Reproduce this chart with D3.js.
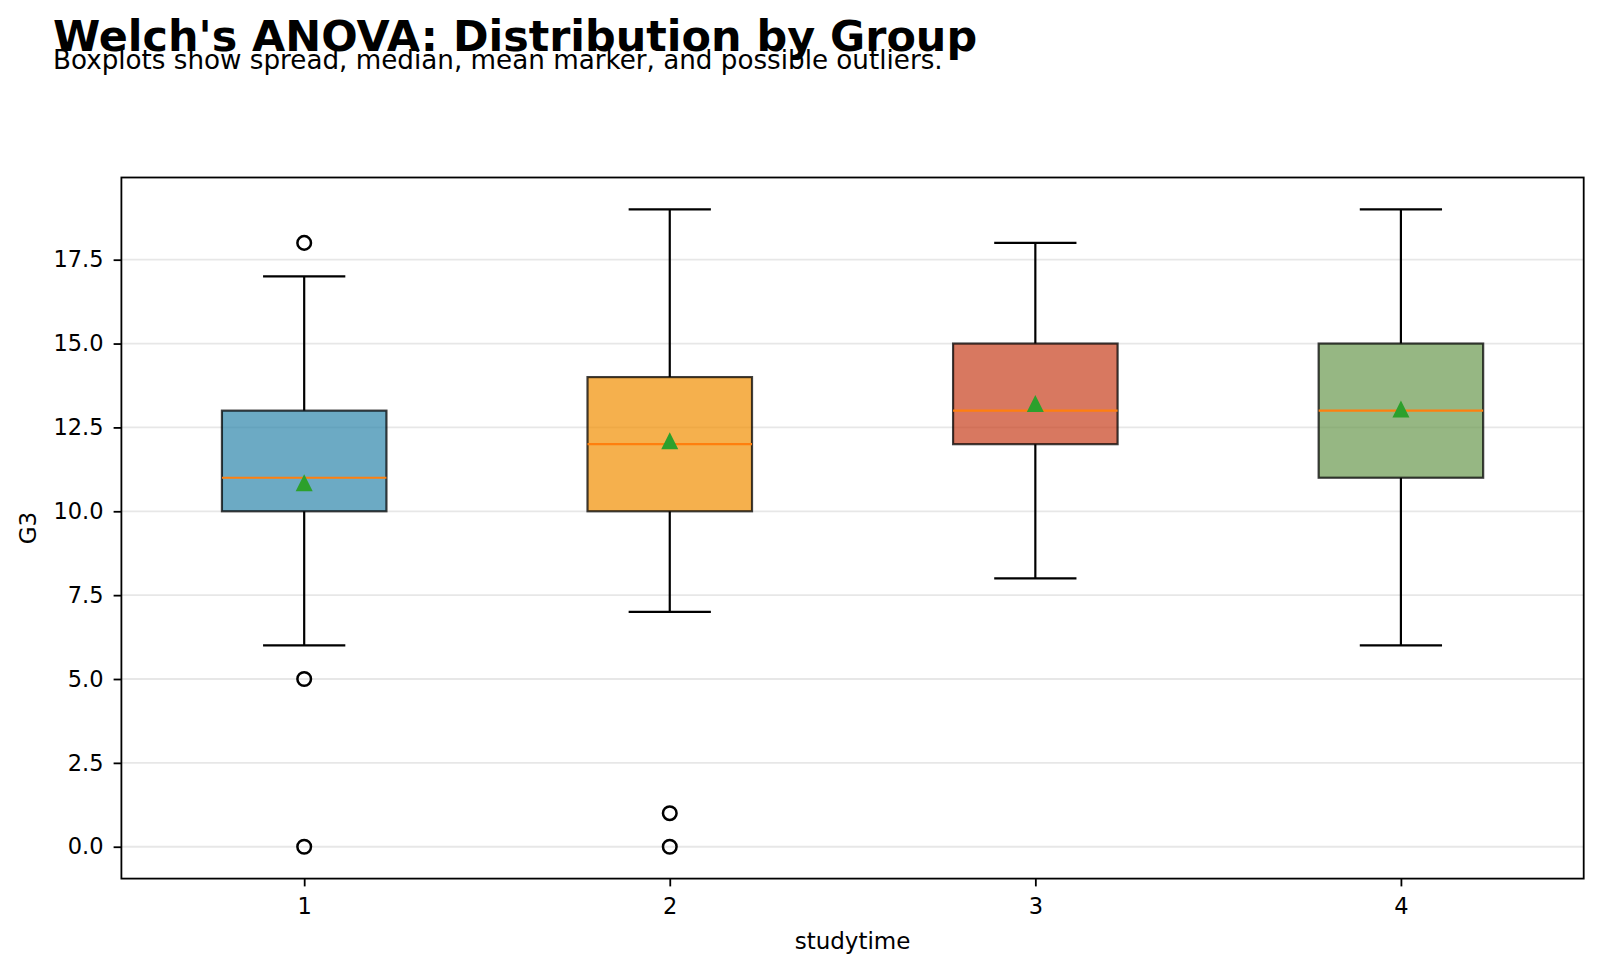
<!DOCTYPE html>
<html>
<head>
<meta charset="utf-8">
<script src="https://cdn.jsdelivr.net/npm/d3@7"></script>
<style>
  body { margin: 0; background: #fff; }
  svg { display: block; font-family: "DejaVu Sans", sans-serif; }
</style>
</head>
<body>
<div id="chart"></div>
<script>
// Box summaries per studytime group
const groups = ["1", "2", "3", "4"];
const whiskerLow = [6, 7, 8, 6];
const q1 = [10, 10, 12, 11];
const medians = [11, 12, 13, 13];
const q3 = [13, 14, 15, 15];
const whiskerHigh = [17, 19, 18, 19];
const means = [10.85, 12.1, 13.21, 13.05];
const outliers = [[18, 5, 0], [1, 0], [], []];
const boxColors = ["#2E86AB", "#F18F01", "#C73E1D", "#6A994E"];
const yTicks = [0, 2.5, 5, 7.5, 10, 12.5, 15, 17.5];

const width = 1600;
const height = 971;
const margin = { top: 177.5, right: 16.3, bottom: 92.4, left: 121.4 };

const svg = d3.select("#chart")
  .append("svg")
  .attr("width", width)
  .attr("height", height);

// Scales: categories sit at 1..4, box width 0.45 like matplotlib
const x = d3.scaleLinear()
  .domain([0.5, groups.length + 0.5])
  .range([margin.left, width - margin.right]);

const y = d3.scaleLinear()
  .domain([-0.95, 19.95])
  .range([height - margin.bottom, margin.top]);

const boxW = 0.45;

// Titles (they overlap a little in the original too)
svg.append("text")
  .attr("x", 53)
  .attr("y", 51)
  .style("font-size", "42.9px")
  .style("font-weight", "bold")
  .text("Welch's ANOVA: Distribution by Group");

svg.append("text")
  .attr("x", 53)
  .attr("y", 69)
  .style("font-size", "26.2px")
  .text("Boxplots show spread, median, mean marker, and possible outliers.");

// Grid lines
svg.append("g")
  .selectAll("line")
  .data(yTicks)
  .enter()
  .append("line")
  .attr("x1", margin.left)
  .attr("x2", width - margin.right)
  .attr("y1", d => y(d))
  .attr("y2", d => y(d))
  .attr("stroke", "#b0b0b0")
  .attr("stroke-opacity", 0.3)
  .attr("stroke-width", 1.8);

// Axes
const yAxis = svg.append("g")
  .attr("transform", `translate(${margin.left},0)`)
  .call(d3.axisLeft(y).tickValues(yTicks).tickFormat(d3.format(".1f")).tickSize(7.8).tickPadding(10).tickSizeOuter(0));

const xAxis = svg.append("g")
  .attr("transform", `translate(0,${height - margin.bottom})`)
  .call(d3.axisBottom(x).tickValues(groups.map((g, i) => i + 1)).tickFormat((d, i) => groups[i]).tickSize(7.8).tickPadding(12).tickSizeOuter(0));

[yAxis, xAxis].forEach(a => {
  a.select(".domain").remove();
  a.selectAll(".tick line").attr("stroke", "#000").attr("stroke-width", 1.8);
  a.selectAll(".tick text")
    .style("font-size", "22.5px")
    .style("font-family", "DejaVu Sans, sans-serif")
    .attr("fill", "#000");
});

// Boxes
const boxes = svg.append("g")
  .selectAll("g")
  .data(groups)
  .enter()
  .append("g");

// whiskers
boxes.append("line")
  .attr("x1", (d, i) => x(i + 1))
  .attr("x2", (d, i) => x(i + 1))
  .attr("y1", (d, i) => y(whiskerLow[i]))
  .attr("y2", (d, i) => y(q1[i]))
  .attr("stroke", "#000").attr("stroke-width", 2.2);

boxes.append("line")
  .attr("x1", (d, i) => x(i + 1))
  .attr("x2", (d, i) => x(i + 1))
  .attr("y1", (d, i) => y(q3[i]))
  .attr("y2", (d, i) => y(whiskerHigh[i]))
  .attr("stroke", "#000").attr("stroke-width", 2.2);

// caps
[whiskerLow, whiskerHigh].forEach(arr => {
  boxes.append("line")
    .attr("x1", (d, i) => x(i + 1 - boxW / 4))
    .attr("x2", (d, i) => x(i + 1 + boxW / 4))
    .attr("y1", (d, i) => y(arr[i]))
    .attr("y2", (d, i) => y(arr[i]))
    .attr("stroke", "#000").attr("stroke-width", 2.2);
});

boxes.append("rect")
  .attr("x", (d, i) => x(i + 1 - boxW / 2))
  .attr("width", x(1 + boxW / 2) - x(1 - boxW / 2))
  .attr("y", (d, i) => y(q3[i]))
  .attr("height", (d, i) => y(q1[i]) - y(q3[i]))
  .attr("fill", (d, i) => boxColors[i])
  .attr("fill-opacity", 0.7)
  .attr("stroke", "#000")
  .attr("stroke-opacity", 0.75)
  .attr("stroke-width", 2.2);

// medians
boxes.append("line")
  .attr("x1", (d, i) => x(i + 1 - boxW / 2))
  .attr("x2", (d, i) => x(i + 1 + boxW / 2))
  .attr("y1", (d, i) => y(medians[i]))
  .attr("y2", (d, i) => y(medians[i]))
  .attr("stroke", "#ff7f0e").attr("stroke-width", 2.2);

// mean markers
const tri = 8.5;
boxes.append("path")
  .attr("d", (d, i) => {
    const cx = x(i + 1), cy = y(means[i]);
    return `M${cx},${cy - tri}L${cx + tri},${cy + tri}L${cx - tri},${cy + tri}Z`;
  })
  .attr("fill", "#2ca02c");

// outliers
boxes.selectAll("circle")
  .data((d, i) => outliers[i].map(v => ({ v, i })))
  .enter()
  .append("circle")
  .attr("cx", d => x(d.i + 1))
  .attr("cy", d => y(d.v))
  .attr("r", 6.8)
  .attr("fill", "none")
  .attr("stroke", "#000")
  .attr("stroke-width", 2.5);

// Frame
svg.append("rect")
  .attr("x", margin.left)
  .attr("y", margin.top)
  .attr("width", width - margin.left - margin.right)
  .attr("height", height - margin.top - margin.bottom)
  .attr("fill", "none")
  .attr("stroke", "#000")
  .attr("stroke-width", 1.8);

// Axis labels
svg.append("text")
  .attr("x", (margin.left + width - margin.right) / 2)
  .attr("y", 949)
  .attr("text-anchor", "middle")
  .style("font-size", "23px")
  .text("studytime");

svg.append("text")
  .attr("transform", `translate(36,${(margin.top + height - margin.bottom) / 2}) rotate(-90)`)
  .attr("text-anchor", "middle")
  .style("font-size", "23px")
  .text("G3");
</script>
</body>
</html>
